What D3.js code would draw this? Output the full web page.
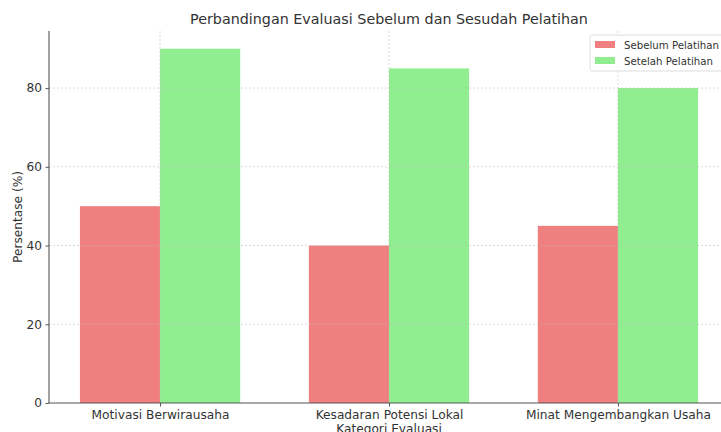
<!DOCTYPE html>
<html><head><meta charset="utf-8">
<script src="https://cdn.jsdelivr.net/npm/d3@7"></script>
<style>
html,body{margin:0;padding:0;background:#fff;overflow:hidden;}
text{font-family:"DejaVu Sans",sans-serif;}
</style></head>
<body><svg id="c" width="721" height="432"></svg>
<script>
const categories = ["Motivasi Berwirausaha", "Kesadaran Potensi Lokal", "Minat Mengembangkan Usaha"];
const seriesNames = ["Sebelum Pelatihan", "Setelah Pelatihan"];
const sebelum = [50, 40, 45];
const setelah = [90, 85, 80];
const yTicks = [0, 20, 40, 60, 80];
const colors = ["#F08080", "#90EE90"];

(function(){
const svg = d3.select("#c");
const L = 49, R = 729, T = 31, B = 403;
const barW = 0.35;
const x = d3.scaleLinear().domain([-0.485, 2.485]).range([L, R]);
const y = d3.scaleLinear().domain([0, 94.5]).range([B, T]);
const textCol = "#333";
const fs = 12.2;

// bars
const series = [sebelum, setelah];
series.forEach((vals, si) => {
  svg.append("g").selectAll("rect").data(vals).join("rect")
    .attr("x", (d, i) => x(i + (si === 0 ? -barW : 0)))
    .attr("width", x(barW) - x(0))
    .attr("y", d => y(d))
    .attr("height", d => y(0) - y(d))
    .attr("fill", colors[si]);
});

// grid (on top, dashed)
const grid = svg.append("g");
grid.selectAll("line.h").data(yTicks.filter(t => t > 0)).join("line")
  .attr("x1", L).attr("x2", R)
  .attr("y1", d => y(d)).attr("y2", d => y(d))
  .attr("stroke", "#bbb").attr("stroke-opacity", 0.7).attr("stroke-dasharray", "2,2").attr("stroke-width", 0.8);
grid.selectAll("line.v").data(categories.map((c, i) => i)).join("line")
  .attr("x1", d => x(d)).attr("x2", d => x(d))
  .attr("y1", T).attr("y2", B)
  .attr("stroke", "#bbb").attr("stroke-opacity", 0.7).attr("stroke-dasharray", "2,2").attr("stroke-width", 0.8);

// axes
const yAxis = d3.axisLeft(y).tickValues(yTicks).tickSize(3.5).tickPadding(3.5);
const gy = svg.append("g").attr("transform", `translate(${L},0)`).call(yAxis);
gy.select(".domain").attr("stroke", "#555").attr("stroke-width", 1.1).attr("d", `M0,${T}V${B}`);
gy.selectAll(".tick line").attr("stroke", "#555");
gy.selectAll(".tick text").attr("fill", textCol).attr("font-size", fs);

const xAxis = d3.axisBottom(x).tickValues([0, 1, 2]).tickFormat(i => categories[i]).tickSize(3.5).tickPadding(3.5);
const gx = svg.append("g").attr("transform", `translate(0,${B})`).call(xAxis);
gx.select(".domain").attr("stroke", "#555").attr("stroke-width", 1.1).attr("d", `M${L},0H${R}`);
gx.selectAll(".tick line").attr("stroke", "#555");
gx.selectAll(".tick text").attr("fill", textCol).attr("font-size", fs);

// labels
svg.append("text").attr("x", (L + R) / 2).attr("y", 24).attr("text-anchor", "middle")
  .attr("font-size", 14.3).attr("fill", textCol).text("Perbandingan Evaluasi Sebelum dan Sesudah Pelatihan");
svg.append("text").attr("transform", `translate(22,217) rotate(-90)`).attr("text-anchor", "middle")
  .attr("font-size", fs).attr("fill", textCol).text("Persentase (%)");
svg.append("text").attr("x", (L + R) / 2).attr("y", 433).attr("text-anchor", "middle")
  .attr("font-size", fs).attr("fill", textCol).text("Kategori Evaluasi");

// legend
const lg = svg.append("g").attr("transform", "translate(590,35)");
lg.append("rect").attr("x", 0).attr("y", 0).attr("width", 140).attr("height", 36).attr("rx", 2)
  .attr("fill", "#fff").attr("fill-opacity", 0.8).attr("stroke", "#ddd");
seriesNames.forEach((n, i) => {
  lg.append("rect").attr("x", 5).attr("y", 6 + i * 16).attr("width", 20).attr("height", 7).attr("fill", colors[i]);
  lg.append("text").attr("x", 34).attr("y", 13.8 + i * 16).attr("font-size", 10.2).attr("fill", textCol).text(n);
});
})();
</script></body></html>
